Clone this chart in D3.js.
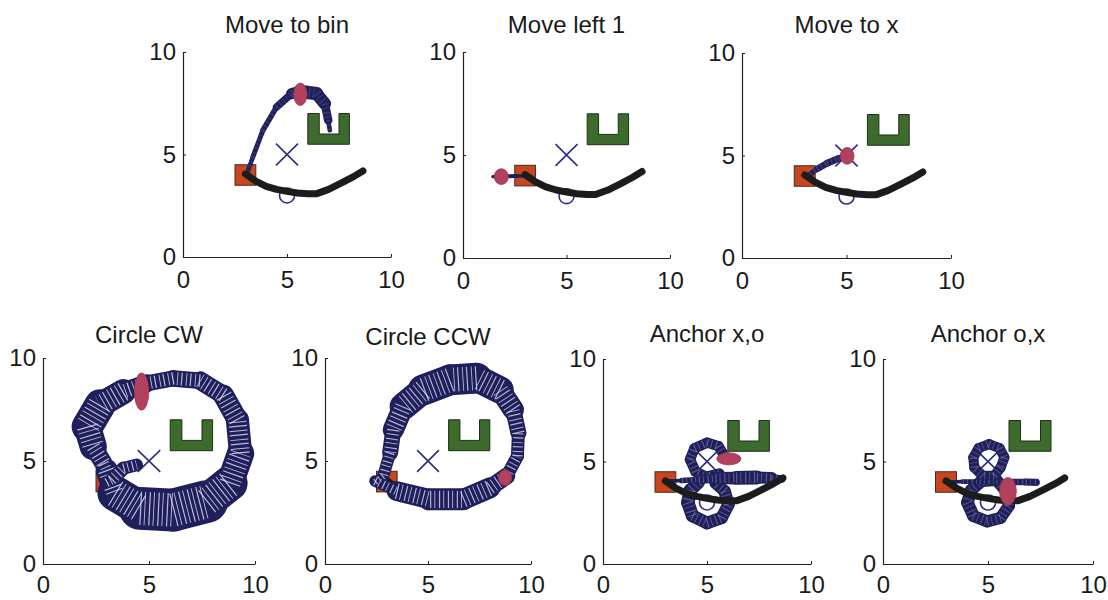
<!DOCTYPE html>
<html><head><meta charset="utf-8">
<script src="https://cdn.jsdelivr.net/npm/d3@7"></script>
<style>body{margin:0;background:#fff}</style>
</head><body><svg id="c" width="1108" height="600"></svg>
<script>
// ---------- data (in plot units, 0..10) ----------
const titles = ["Move to bin","Move left 1","Move to x","Circle CW","Circle CCW","Anchor x,o","Anchor o,x"];
const tickValues = [0,5,10];
const axisDomain = [0,10];

const bowlCurve = [[3.0,4.05],[3.5,3.7],[4.0,3.45],[4.5,3.3],[5.0,3.2],[5.5,3.12],[6.0,3.08],[6.4,3.08],[7.0,3.3],[7.6,3.6],[8.2,3.92],[8.65,4.2]];
const binShape = [[6,5.5],[8,5.5],[8,7],[7.5,7],[7.5,6],[6.55,6],[6.55,7],[6,7]];
const objectBox = [[2.5,3.5],[3.5,4.5]];
const xMark = [5,5], xHalf = 0.53;
const oMark = [5,3.0], oRadius = 0.36;

// trajectories: centre line and spread (band width, plot units)
const binPath   = [[3.05,3.99],[3.36,4.88],[3.84,6.18],[4.5,7.32],[5.22,7.97],[5.62,8.08],[6.42,7.97],[6.82,7.48],[6.98,6.67],[7.06,6.18]];
const binSpread = [0.2,0.24,0.24,0.29,0.43,0.63,0.67,0.53,0.29,0.15];

const leftPath   = [[1.45,3.95],[2.0,3.97],[2.6,3.98],[3.1,3.98]];
const leftSpread = [0.15,0.18,0.2,0.15];

const toXPath   = [[3.11,3.97],[3.6,4.35],[4.07,4.62],[4.6,4.85],[5.03,4.98]];
const toXSpread = [0.2,0.3,0.33,0.33,0.3];

const cwPath   = [[3.0,4.56],[3.4,3.43],[4.58,2.7],[6.15,2.62],[7.72,3.03],[8.82,3.92],[9.32,5.37],[9.17,6.99],[8.51,8.2],[7.41,8.9],[6.15,9.01],[4.89,8.77],[3.79,8.37],[2.69,7.72],[2.09,6.67],[2.37,5.7],[2.85,4.89],[3.0,4.56]];
const cwSpread = [0.67,1.43,1.9,2.14,1.9,1.43,1.14,1.05,0.95,0.8,0.76,0.76,0.95,1.43,1.52,1.05,0.67,0.67];
const cwCurl   = [[3.0,3.95],[3.24,4.08],[3.79,4.64],[4.42,4.81]];
const cwCurlSpread = [0.5,0.6,0.7,0.5];

const ccwPath   = [[2.43,4.03],[3.48,3.54],[5.1,3.14],[6.71,3.14],[8.01,3.7],[8.82,4.27],[9.34,5.23],[9.39,6.36],[9.14,7.49],[8.5,8.45],[7.36,9.02],[6.07,8.94],[4.77,8.45],[3.8,7.65],[3.32,6.52],[3.16,5.4],[2.83,4.27],[2.43,3.98]];
const ccwSpread = [0.25,0.87,1.07,1.07,0.97,0.68,0.58,0.68,0.87,1.2,1.45,1.55,1.45,1.2,0.87,0.68,0.5,0.3];

const xoBand    = [[3.0,4.05],[3.8,4.07],[4.6,4.12],[5.4,4.18],[6.4,4.2],[7.4,4.22],[8.1,4.2],[8.6,4.15]];
const xoBandSpread = [0.15,0.2,0.34,0.53,0.67,0.67,0.48,0.24];
const xoUpper   = [[5.6,4.4],[5.0,4.25],[4.45,4.5],[4.18,5.1],[4.4,5.65],[5.0,5.92],[5.55,5.75],[5.82,5.3],[6.0,5.1]];
const xoUpperSpread = [0.55,0.5,0.5,0.5,0.5,0.5,0.5,0.5,0.45];
const xoLower   = [[4.6,4.0],[4.2,3.6],[4.08,3.0],[4.3,2.35],[5.0,2.0],[5.7,2.25],[6.03,2.9],[5.85,3.55],[5.4,3.95]];
const xoLowerSpread = [0.6,0.65,0.65,0.62,0.62,0.6,0.6,0.6,0.55];

const oxBand    = [[3.0,4.0],[3.8,4.02],[4.6,4.02],[5.4,4.0],[6.2,4.0],[6.8,4.0],[7.3,3.98]];
const oxBandSpread = [0.15,0.2,0.25,0.28,0.3,0.33,0.35];
const oxUpper   = [[5.3,4.3],[4.75,4.3],[4.35,4.7],[4.3,5.2],[4.55,5.65],[5.05,5.85],[5.55,5.65],[5.78,5.2],[5.6,4.7],[5.3,4.3]];
const oxUpperSpread = [0.48,0.48,0.48,0.48,0.48,0.48,0.48,0.48,0.48,0.48];
const oxLower   = [[5.4,4.1],[4.7,4.05],[4.2,3.6],[4.02,3.0],[4.3,2.35],[4.95,2.08],[5.6,2.25],[6.0,2.85],[5.9,3.5],[5.4,4.1]];
const oxLowerSpread = [0.57,0.57,0.6,0.6,0.6,0.57,0.57,0.57,0.57,0.57];

// hand marker: centre x, centre y, half-width, half-height
const handBin = [5.64,7.94,0.32,0.54];
const handLeft = [1.85,3.95,0.34,0.38];
const handToX = [5.03,4.98,0.33,0.4];
const handCW = [4.65,8.37,0.34,0.88];
const handCCW = [8.74,4.19,0.32,0.38];
const handXO = [6.05,5.13,0.58,0.29];
const handOX = [5.95,3.55,0.4,0.65];

// ---------- layout & style ----------
const layout = [
  {x:183,y:52,w:208,h:205,tg:19,tp:14},
  {x:463,y:52,w:207,h:206,tg:19,tp:14},
  {x:742,y:53,w:209,h:205,tg:20,tp:14},
  {x:43,y:358,w:212,h:206,tg:15,tp:12},
  {x:325,y:358,w:206,h:206,tg:13,tp:12},
  {x:603,y:359,w:208,h:205,tg:17,tp:12},
  {x:883,y:359,w:210,h:205,tg:17,tp:12}
];
const panels = [
  {trajs:[[binPath,binSpread]], hand:handBin, stripe:0.15, curveUnder:false},
  {trajs:[[leftPath,leftSpread]], hand:handLeft, stripe:0, curveUnder:false},
  {trajs:[[toXPath,toXSpread]], hand:handToX, stripe:0.2, curveUnder:false},
  {trajs:[[cwPath,cwSpread],[cwCurl,cwCurlSpread]], hand:handCW, stripe:0.8, curveUnder:true},
  {trajs:[[ccwPath,ccwSpread]], hand:handCCW, stripe:0.75, curveUnder:true},
  {trajs:[[xoLower,xoLowerSpread],[xoUpper,xoUpperSpread],[xoBand,xoBandSpread]], hand:handXO, stripe:0.3, curveUnder:false},
  {trajs:[[oxLower,oxLowerSpread],[oxUpper,oxUpperSpread],[oxBand,oxBandSpread]], hand:handOX, stripe:0.25, curveUnder:false}
];
const FONT = "'Liberation Sans', Arial, Helvetica, sans-serif";
const NAVY = "#1f1f5c", MARK = "#2c2c8a", CURVE = "#1c1c1c", HAND = "#b2415e";

const svg = d3.select("#c");

panels.forEach((p,i)=>{
  const L = layout[i];
  const x = d3.scaleLinear().domain(axisDomain).range([L.x, L.x+L.w]);
  const y = d3.scaleLinear().domain(axisDomain).range([L.y+L.h, L.y]);
  const k = L.w/10;
  const g = svg.append("g");
  const line = d3.line().x(d=>x(d[0])).y(d=>y(d[1]));

  // axes
  const ay = g.append("g").attr("transform",`translate(${L.x},0)`)
    .call(d3.axisLeft(y).tickValues(tickValues).tickSizeInner(-3).tickSizeOuter(0).tickPadding(7));
  const ax = g.append("g").attr("transform",`translate(0,${L.y+L.h})`)
    .call(d3.axisBottom(x).tickValues(tickValues).tickSizeInner(-3).tickSizeOuter(0).tickPadding(L.tp));
  [ax,ay].forEach(a=>{
    a.attr("font-size",24).attr("font-family",FONT);
    a.selectAll("path.domain").attr("stroke","#222").attr("stroke-width",1.2);
    a.selectAll(".tick line").attr("stroke","#222");
    a.selectAll("text").attr("fill","#1a1a1a");
  });

  // title
  g.append("text").attr("x",(L.x+L.x+L.w)/2).attr("y",L.y-L.tg)
    .attr("text-anchor","middle").attr("font-size",24).attr("font-family",FONT).attr("fill","#1a1a1a")
    .text(titles[i]);

  // object box
  g.append("rect").attr("x",x(objectBox[0][0])).attr("y",y(objectBox[1][1]))
    .attr("width",x(objectBox[0][1])-x(objectBox[0][0])).attr("height",y(objectBox[1][0])-y(objectBox[1][1]))
    .attr("fill","#c7461f").attr("stroke","#4a2a1c").attr("stroke-width",1);
  // bin
  g.append("path").attr("d",line(binShape)+"Z").attr("fill","#3d6a2d").attr("stroke","#1e2e18").attr("stroke-width",1);
  // x mark
  g.append("path").attr("d",
    line([[xMark[0]-xHalf,xMark[1]-xHalf],[xMark[0]+xHalf,xMark[1]+xHalf]]) +
    line([[xMark[0]-xHalf,xMark[1]+xHalf],[xMark[0]+xHalf,xMark[1]-xHalf]]))
    .attr("stroke",MARK).attr("stroke-width",1.6).attr("fill","none");
  // o mark
  g.append("circle").attr("cx",x(oMark[0])).attr("cy",y(oMark[1])).attr("r",oRadius*k)
    .attr("fill","none").attr("stroke",MARK).attr("stroke-width",1.6);

  const drawCurve = ()=> g.append("path").attr("d",line(bowlCurve)).attr("fill","none")
      .attr("stroke",CURVE).attr("stroke-width",7).attr("stroke-linecap","round").attr("stroke-linejoin","round");

  if (p.curveUnder) drawCurve();

  // trajectories
  p.trajs.forEach(([pts,spr])=>{
    for(let s=0;s<pts.length-1;s++){
      const w = (spr[s]+spr[s+1])/2*k;
      g.append("path").attr("d",line([pts[s],pts[s+1]])).attr("fill","none")
        .attr("stroke",NAVY).attr("stroke-width",w).attr("stroke-linecap","round");
    }
    if(p.stripe>0){
      for(let s=0;s<pts.length-1;s++){
        const w = (spr[s]+spr[s+1])/2*k;
        if (w<4) continue;
        g.append("path").attr("d",line([pts[s],pts[s+1]])).attr("fill","none")
          .attr("stroke","#e4e4fa").attr("stroke-opacity",p.stripe)
          .attr("stroke-width",w*0.78).attr("stroke-dasharray","1.2 3.1 0.9 3.7").attr("stroke-linecap","butt");
      }
    }
  });

  if (!p.curveUnder) drawCurve();

  // hand
  const h = p.hand;
  g.append("ellipse").attr("cx",x(h[0])).attr("cy",y(h[1])).attr("rx",h[2]*k).attr("ry",h[3]*k)
    .attr("fill",HAND).attr("stroke","#9a3450").attr("stroke-width",0.8);
});
</script></body></html>
